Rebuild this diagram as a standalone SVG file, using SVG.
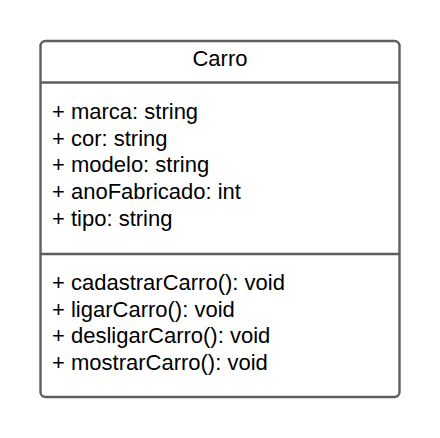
<svg xmlns="http://www.w3.org/2000/svg" width="440" height="438" viewBox="0 0 440 438">
<style>
.box{fill:#ffffff;stroke:#5f5f5f;stroke-width:2.4}
.sep{stroke:#5f5f5f;stroke-width:2.4}
text{font-family:"Liberation Sans",Arial,sans-serif;font-size:22px;fill:#000000}
</style>
<rect width="440" height="438" fill="#ffffff"/>
<g id="Carro">
<rect class="box" x="40.5" y="41" width="359" height="356" rx="5"/>
<line class="sep" x1="40.5" y1="82.5" x2="399.5" y2="82.5"/>
<line class="sep" x1="40.5" y1="254" x2="399.5" y2="254"/>
<text x="220" y="66" text-anchor="middle">Carro</text>
<text x="52" y="119">+ marca: string</text>
<text x="52" y="145.7">+ cor: string</text>
<text x="52" y="172.3">+ modelo: string</text>
<text x="52" y="199">+ anoFabricado: int</text>
<text x="52" y="225.6">+ tipo: string</text>
<text x="52" y="290">+ cadastrarCarro(): void</text>
<text x="52" y="316.7">+ ligarCarro(): void</text>
<text x="52" y="343.3">+ desligarCarro(): void</text>
<text x="52" y="370">+ mostrarCarro(): void</text>
</g>
<g id="connectors"/>
</svg>
